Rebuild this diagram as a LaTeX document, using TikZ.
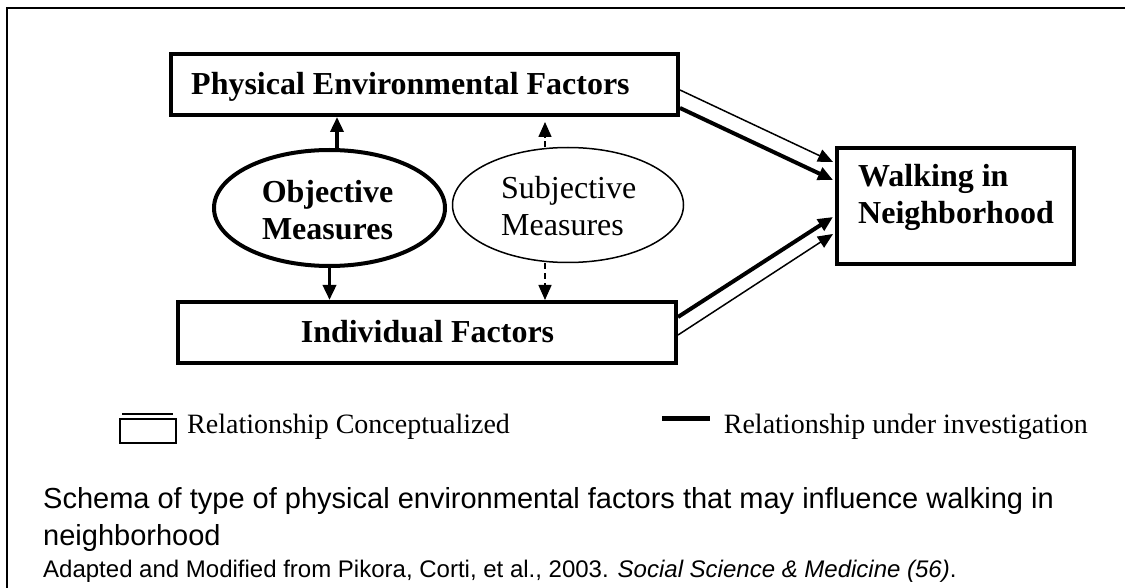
\documentclass[tikz,border=0pt]{standalone}
\usepackage{fontspec}
\setmainfont{Liberation Serif}
\newfontfamily\capfont{Liberation Sans}
\usetikzlibrary{arrows.meta,shapes.geometric}
\tikzset{
  box/.style={draw, line width=4pt, rectangle, inner sep=0pt},
  bigtxt/.style={font=\fontsize{32}{37}\selectfont\bfseries, anchor=base, inner sep=0pt},
  subtxt/.style={font=\fontsize{32}{37}\selectfont, anchor=base west, inner sep=0pt},
  legtxt/.style={font=\fontsize{28}{33}\selectfont, anchor=base west, inner sep=0pt},
  captxt/.style={font=\capfont\fontsize{29}{34}\selectfont, anchor=base west, inner sep=0pt},
  smalltxt/.style={font=\capfont\fontsize{24}{28}\selectfont, anchor=base west, inner sep=0pt},
  tip/.style={-{Triangle[length=15pt,width=13pt]}},
  solidarr/.style={line width=3.5pt, tip},
  dasharr/.style={line width=1.5pt, dash pattern=on 6pt off 4pt, tip},
  thinarr/.style={line width=1.5pt, tip},
  thickarr/.style={line width=4pt, tip},
}
\begin{document}
\begin{tikzpicture}[x=1pt,y=-1pt]
\useasboundingbox (0,0) rectangle (1125,588);
% outer frame
\draw[line width=2.5pt] (7,600) -- (7,8) -- (1130,8);
% boxes
\node[box, minimum width=507pt, minimum height=61pt] (phys) at (424.5,84.5) {};
\node[box, minimum width=498pt, minimum height=61pt] (ind) at (427,332.5) {};
\node[box, minimum width=237pt, minimum height=116pt] (walk) at (955.5,206) {};
\node[bigtxt, anchor=base west] (physt) at (191,95) {Physical Environmental Factors};
\node[bigtxt] (indt) at (427.5,342) {Individual Factors};
\node[bigtxt, anchor=base west] (walk1) at (858,187) {Walking in};
\node[bigtxt, anchor=base west] (walk2) at (858,224) {Neighborhood};
% ellipses
\node[draw, ellipse, line width=4pt, minimum width=231pt, minimum height=116pt, inner sep=0pt] (obj) at (329.5,208) {};
\node[draw, ellipse, line width=1.5pt, minimum width=231pt, minimum height=115pt, inner sep=0pt] (subj) at (568,205) {};
\node[bigtxt] (obj1) at (327.5,203) {Objective};
\node[bigtxt] (obj2) at (327.5,240) {Measures};
\node[subtxt] (subj1) at (501,199) {Subjective};
\node[subtxt] (subj2) at (501,236) {Measures};
% vertical arrows
\draw[solidarr] ([xshift=7.5pt]obj.north) -- ([xshift=7.5pt]obj.north |- phys.south);
\draw[solidarr] (obj.south) -- (obj.south |- ind.north);
\draw[dasharr] ([xshift=-23pt]subj.north) -- ([xshift=-23pt,yshift=-5pt]subj.north |- phys.south);
\draw[dasharr] ([xshift=-23pt]subj.south) -- ([xshift=-23pt]subj.south |- ind.north);
% arrows to walking
\draw[thinarr] ([yshift=-5.5pt]phys.east) -- ([xshift=-2pt,yshift=44pt]walk.west);
\draw[thickarr] ([yshift=-23.5pt]phys.east) -- ([xshift=-2pt,yshift=26pt]walk.west);
\draw[thickarr] ([yshift=15.5pt]ind.east) -- ([xshift=-2pt,yshift=-11pt]walk.west);
\draw[thinarr] ([yshift=-2.5pt]ind.east) -- ([xshift=-2pt,yshift=-28pt]walk.west);
% legend
\coordinate (lg1) at (122,414);
\coordinate (lg2) at (173,414);
\draw[line width=1.5pt] (lg1) -- (lg2);
\draw[line width=1.5pt] (120,419) rectangle (176,443);
\node[legtxt] (leg1) at (187,433) {Relationship Conceptualized};
\coordinate (lg3) at (662,418);
\coordinate (lg4) at (710,418);
\draw[line width=5pt] (lg3) -- (lg4);
\node[legtxt, anchor=base east] (leg2) at (1088,433) {Relationship under investigation};
% caption
\node[captxt] (cap1) at (43,508) {Schema of type of physical environmental factors that may influence walking in};
\node[captxt] (cap2) at (43,545) {neighborhood};
\node[smalltxt] (cap3) at (43,577) {Adapted and Modified from Pikora, Corti, et al., 2003. \textit{Social Science \& Medicine (56)}.};
\end{tikzpicture}
\end{document}
